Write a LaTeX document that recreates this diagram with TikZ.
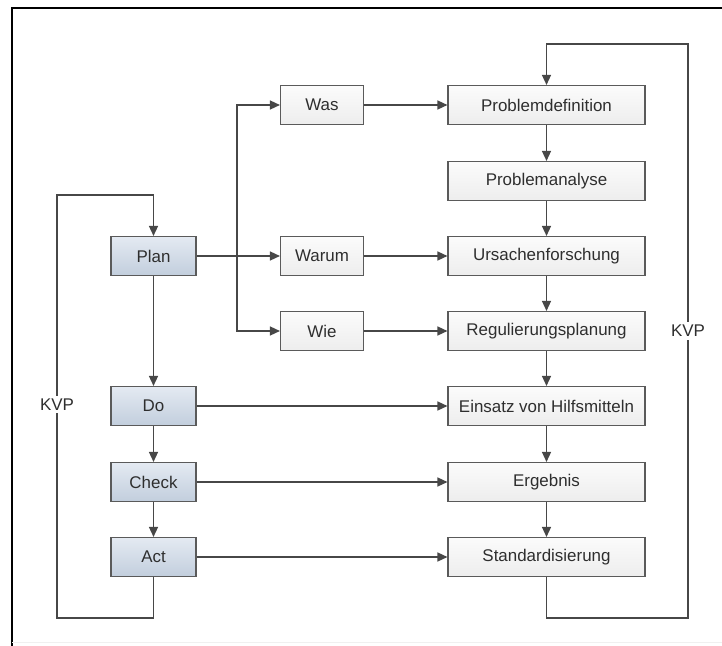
\documentclass[tikz,border=0pt]{standalone}
\usepackage{fontspec}
\setmainfont{Liberation Sans}
\usetikzlibrary{arrows.meta}
\tikzset{ > = {Triangle[length=10bp, width=9bp]} }
\definecolor{linegray}{HTML}{474747}
\definecolor{boxline}{HTML}{5A5A5A}
\definecolor{textgray}{HTML}{2E2E2E}
\definecolor{blautop}{HTML}{E4EAF2}
\definecolor{blaubottom}{HTML}{C2CEDD}

\begin{document}
\begin{tikzpicture}
  [
    x = 1bp, y = -1bp,
    every node/.style = { font = \fontsize{17}{20}\selectfont, text = textgray },
    pdca/.style = { draw = boxline, line width = 1.1bp, rectangle,
                    minimum width = 85bp, minimum height = 39bp,
                    top color = blautop, bottom color = blaubottom },
    frage/.style = { draw = boxline, line width = 1.1bp, rectangle,
                     minimum width = 83bp, minimum height = 39bp,
                     top color = gray!3, bottom color = gray!14 },
    schritt/.style = { draw = boxline, line width = 1.1bp, rectangle,
                       minimum width = 197bp, minimum height = 39bp,
                       top color = gray!3, bottom color = gray!14 },
    kvp/.style = { fill = white, inner sep = 3bp },
    pfeil/.style = { ->, draw = linegray, line width = 1.4bp }
  ]
    \useasboundingbox (0,0) rectangle (722,646);
    % frame
    \draw [black, line width = 1.3bp] (722,8) -- (12,8) -- (12,646);
    \draw [gray!12, line width = 1bp] (12,642) -- (722,642);

    \node (plan) [pdca] at (153.5,256) {Plan};
    \node (do) [pdca] at (153.5,406) {Do};
    \node (check) [pdca] at (153.5,482) {Check};
    \node (act) [pdca] at (153.5,557) {Act};

    \node (was) [frage] at (322,105) {Was};
    \node (warum) [frage] at (322,256) {Warum};
    \node (wie) [frage] at (322,331) {Wie};

    \node (pdef) [schritt] at (546.5,105) {Problemdefinition};
    \node (pana) [schritt] at (546.5,181) {Problemanalyse};
    \node (ursach) [schritt] at (546.5,256) {Ursachenforschung};
    \node (regel) [schritt] at (546.5,331) {Regulierungsplanung};
    \node (einsatz) [schritt] at (546.5,406) {Einsatz von Hilfsmitteln};
    \node (ergeb) [schritt] at (546.5,482) {Ergebnis};
    \node (standard) [schritt] at (546.5,557) {Standardisierung};

    \coordinate (br) at (237,256);
    \coordinate (lb) at (57,618);
    \coordinate (lt) at (57,195);
    \coordinate (rb) at (688,618);
    \coordinate (rt) at (688,44);

    \draw [pfeil] (plan.east) -- (warum.west);
    \draw [pfeil] (br) |- (was.west);
    \draw [pfeil] (br) |- (wie.west);
    \draw [pfeil] (was.east) -- (pdef.west);
    \draw [pfeil] (warum.east) -- (ursach.west);
    \draw [pfeil] (wie.east) -- (regel.west);
    \draw [pfeil] (do.east) -- (einsatz.west);
    \draw [pfeil] (check.east) -- (ergeb.west);
    \draw [pfeil] (act.east) -- (standard.west);

    \draw [pfeil] (plan.south) -- (do.north);
    \draw [pfeil] (do.south) -- (check.north);
    \draw [pfeil] (check.south) -- (act.north);

    \draw [pfeil] (pdef.south) -- (pana.north);
    \draw [pfeil] (pana.south) -- (ursach.north);
    \draw [pfeil] (ursach.south) -- (regel.north);
    \draw [pfeil] (regel.south) -- (einsatz.north);
    \draw [pfeil] (einsatz.south) -- (ergeb.north);
    \draw [pfeil] (ergeb.south) -- (standard.north);

    % KVP loops
    \draw [pfeil] (act.south) |- (lb) -- node [kvp, pos = 0.505] {KVP} (lt) -| (plan.north);
    \draw [pfeil] (standard.south) |- (rb) -- node [kvp, pos = 0.5] {KVP} (rt) -| (pdef.north);
\end{tikzpicture}
\end{document}
